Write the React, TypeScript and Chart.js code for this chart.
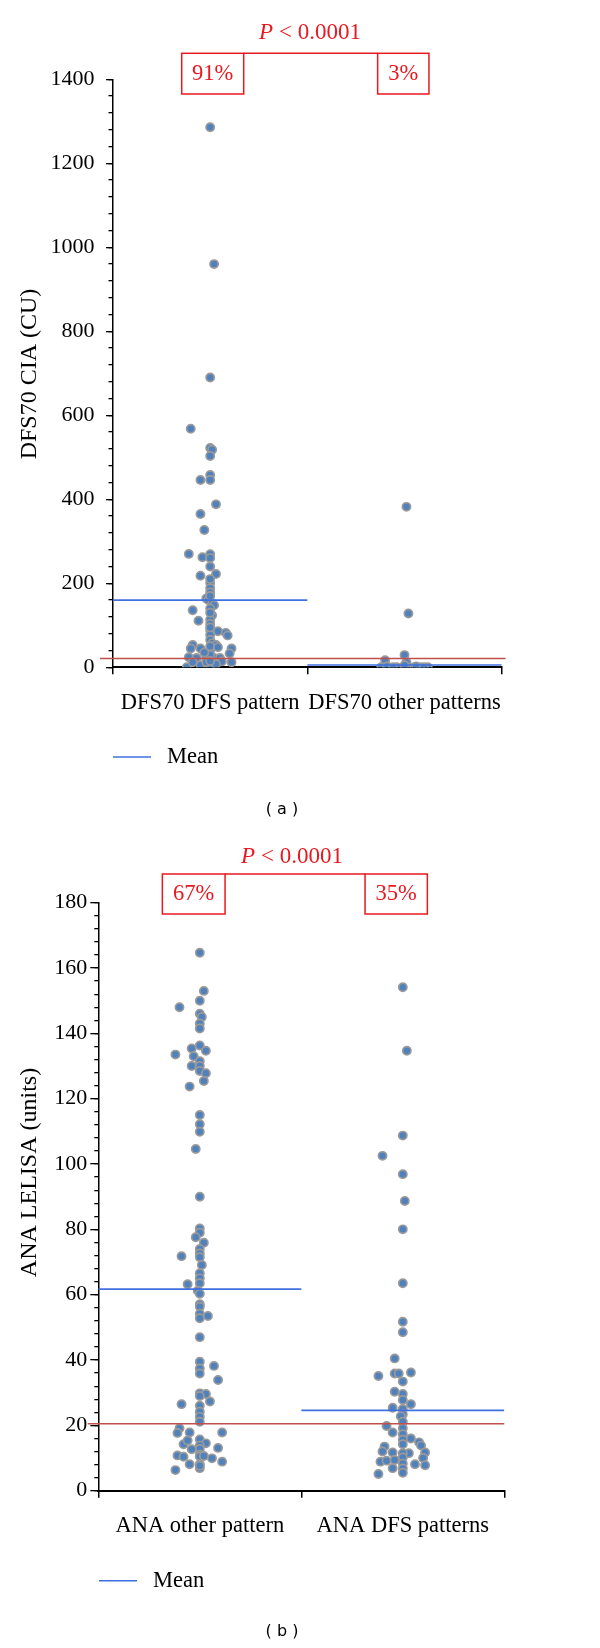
import React, { useEffect, useRef } from "react";
import { Chart, registerables } from "chart.js";

Chart.register(...registerables);

// ---------------- Panel (a) data ----------------
const A_CATEGORIES = ["DFS70 DFS pattern", "DFS70 other patterns"];
const A_Y_TITLE = "DFS70 CIA (CU)";
const A_Y_MAX = 1400;
const A_Y_STEP = 200;
const A_Y_MINOR = 40;
const A_DFS_VALUES = [
  1286, 960, 690, 568, 522, 518, 503, 446, 458, 446,
  388, 365, 327, 270, 262, 269, 260, 240, 218, 222,
  201, 188, 178, 164, 160, 152, 148, 140, 136, 124,
  113, 111, 103, 89, 86, 82, 76, 77, 65, 57,
  53, 53, 45, 45, 45, 41, 33, 24, 22, 22,
  22, 22, 0, 5, 0, 14, 12, 12, 7, 12,
  30, 15, 95, 130, 170, 210, 35, 50, 48,
];
const A_DFS_JITTER = [
  0, 0.02, 0, -0.1, 0, 0.01, 0, -0.05, 0, 0,
  0.03, -0.05, -0.03, -0.11, -0.04, 0, 0, 0, -0.05, 0.03,
  0, 0, 0, -0.02, -0.01, 0.01, 0.02, 0, -0.09, 0.01,
  0, -0.06, 0, 0, 0.04, 0.08, 0.09, 0, 0, 0.01,
  0.03, -0.09, -0.1, -0.05, 0.11, 0, 0.1, -0.11, -0.07, -0.02,
  0.02, 0.05, -0.12, -0.05, 0, 0.06, 0.11, -0.02, 0.03, -0.09,
  0, 0, 0, 0, 0, 0, -0.03, 0, 0.04,
];
const A_OTHER_VALUES = [382, 128, 29, 17, 12, 0, 2, 0, 0, 0, 0, 0, 5, 0, 2, 0];
const A_OTHER_JITTER = [0.01, 0.02, 0, -0.1, 0.01, -0.12, -0.09, -0.04, 0.01, 0.05, 0.08, 0.12, 0, -0.06, 0.06, 0.1];
const A_MEANS = [160, 5.5];
const A_CUTOFF = 21;
const A_PERCENTS = ["91%", "3%"];
const A_CAPTION = "( a )";

// ---------------- Panel (b) data ----------------
const B_CATEGORIES = ["ANA other pattern", "ANA DFS patterns"];
const B_Y_TITLE = "ANA LELISA (units)";
const B_Y_MAX = 180;
const B_Y_STEP = 20;
const B_Y_MINOR = 4;
const B_OTHER_VALUES = [
  164.7, 153, 148, 150, 146, 145, 143, 141.5, 133.5, 135.4,
  136.3, 134.7, 133, 131.5, 130, 128.5, 130, 127.8, 125.4, 123.7,
  115, 112.2, 109.9, 104.6, 90, 80.3, 79, 77.6, 75.9, 74,
  72.6, 71.8, 71.5, 69.1, 66.6, 65, 63.5, 63.2, 61.2, 60.3,
  57.1, 56.3, 54.2, 52.8, 53.5, 47, 39.5, 37.4, 35.9, 38.2,
  33.9, 29.8, 29.6, 29, 27.3, 26.5, 26, 24.2, 22.6, 21.1,
  19.1, 17.7, 17.8, 17.8, 15.7, 14.5, 14.2, 15.4, 13.8, 12.8,
  12.7, 13.1, 10.8, 10.4, 11, 10.5, 10.6, 9.9, 8.9, 8.1,
  8.1, 6.9, 6.3, 7.6,
];
const B_OTHER_JITTER = [
  0, 0.02, -0.1, 0, 0, 0.01, 0, 0, -0.12, -0.04,
  0, 0.03, -0.03, 0, 0, 0, -0.04, 0.03, 0.02, -0.05,
  0, 0, 0, -0.02, 0, 0, 0, -0.02, 0.02, 0,
  0, -0.09, 0, 0.01, 0, 0, 0, -0.06, -0.01, 0,
  0, 0, 0, 0, 0.04, 0, 0, 0, 0, 0.07,
  0.09, 0, 0.03, 0, 0.05, -0.09, 0, 0, 0, 0,
  -0.1, -0.11, -0.05, 0.11, 0, 0.03, -0.08, -0.06, 0, 0,
  -0.04, 0.09, -0.11, -0.08, 0, 0, 0.02, 0.06, 0.11, -0.05,
  0, 0, -0.12, 0,
];
const B_DFS_VALUES = [
  154.1, 134.7, 108.7, 102.5, 96.9, 88.7, 80, 63.5, 51.7, 48.5,
  40.5, 35.1, 35.9, 35.9, 36.2, 33.4, 30.3, 29.6, 27.8, 26.5,
  25.4, 25, 23.4, 22.8, 21.1, 19.8, 17.8, 19.1, 17.3, 15.6,
  14.2, 16, 14.8, 13.8, 13.5, 12, 11.7, 11.5, 11.7, 11.5,
  10.2, 8.3, 6.8, 8.9, 9.2, 9.4, 10, 8.1, 7.8, 6.9,
  5.1, 5.5,
];
const B_DFS_JITTER = [
  0, 0.02, 0, -0.1, 0, 0.01, 0, 0, 0, 0,
  -0.04, -0.12, -0.04, -0.02, 0.04, 0, -0.04, 0, 0, 0.04,
  -0.05, 0, 0, -0.01, 0, -0.08, -0.05, 0, 0, 0,
  0, 0.04, 0.08, 0.09, -0.09, -0.1, -0.05, 0.03, 0.11, 0,
  0, 0, 0, -0.11, -0.08, -0.04, 0.1, 0.06, 0.11, -0.05,
  -0.12, 0,
];
const B_MEANS = [61.7, 24.6];
const B_CUTOFF = 20.5;
const B_PERCENTS = ["67%", "35%"];
const B_CAPTION = "( b )";

// ---------------- Shared text ----------------
const P_LABEL = ["P", " < 0.0001"];
const LEGEND_LABEL = "Mean";

// ---------------- Styles ----------------
const SERIF = '"Liberation Serif", "Times New Roman", serif';
const MEAN_BLUE = "#3f6fe0";
const CUTOFF_RED = "#c0504d";
const ANNOT_RED = "#e8191f";
const DOT_FILL = "#4f81bd";
const DOT_EDGE = "#9a9a9a";
const XC_HEIGHT = 60;

const LAYOUT_A = {
  height: 824,
  left: 113, right: 501.7, top: 79.3, bottom: 667.3,
  yLabelPad: 11.5, majorTick: 7, minorTick: 4.5,
  redFrom: -0.567, redTo: 1.52,
  pX: 310, pY: 33,
  boxTop: 53.3, boxH: 40.7, boxCenters: [212.7, 403.3], boxWidths: [62, 51.3], boxTextY: 74,
  legendX: 113, legendY: 757,
  captionX: 282, captionY: 810,
  titleX: 29.5, titleY: 374,
};

const LAYOUT_B = {
  height: 824,
  left: 98.3, right: 504.3, top: 78.7, bottom: 666.7,
  yLabelPad: 3, majorTick: 8, minorTick: 4,
  redFrom: -0.552, redTo: 1.5,
  pX: 292, pY: 33,
  boxTop: 50, boxH: 40, boxCenters: [193.7, 396.2], boxWidths: [62.7, 62.3], boxTextY: 70,
  legendX: 99, legendY: 756.7,
  captionX: 282, captionY: 808,
  titleX: 30, titleY: 348.5,
};

const PANEL_A = {
  categories: A_CATEGORIES, yTitle: A_Y_TITLE, yMax: A_Y_MAX, yStep: A_Y_STEP, yMinor: A_Y_MINOR,
  groups: [[A_DFS_VALUES, A_DFS_JITTER], [A_OTHER_VALUES, A_OTHER_JITTER]],
  means: A_MEANS, cutoff: A_CUTOFF, percents: A_PERCENTS, caption: A_CAPTION, layout: LAYOUT_A,
};
const PANEL_B = {
  categories: B_CATEGORIES, yTitle: B_Y_TITLE, yMax: B_Y_MAX, yStep: B_Y_STEP, yMinor: B_Y_MINOR,
  groups: [[B_OTHER_VALUES, B_OTHER_JITTER], [B_DFS_VALUES, B_DFS_JITTER]],
  means: B_MEANS, cutoff: B_CUTOFF, percents: B_PERCENTS, caption: B_CAPTION, layout: LAYOUT_B,
};

function makeAnnotations(p: any) {
  const L = p.layout;
  return {
    id: "panelAnnotations",
    afterDraw(chart: any) {
      const ctx = chart.ctx as CanvasRenderingContext2D;
      ctx.save();
      // y-axis title
      ctx.save();
      ctx.translate(L.titleX, L.titleY);
      ctx.rotate(-Math.PI / 2);
      ctx.font = `24px ${SERIF}`;
      ctx.fillStyle = "#000";
      ctx.textAlign = "center";
      ctx.textBaseline = "middle";
      ctx.fillText(p.yTitle, 0, 0);
      ctx.restore();

      // percentage boxes and bracket
      const [c1, c2] = L.boxCenters;
      const [w1, w2] = L.boxWidths;
      ctx.strokeStyle = ANNOT_RED;
      ctx.lineWidth = 1.5;
      ctx.strokeRect(c1 - w1 / 2, L.boxTop, w1, L.boxH);
      ctx.strokeRect(c2 - w2 / 2, L.boxTop, w2, L.boxH);
      ctx.beginPath();
      ctx.moveTo(c1 + w1 / 2, L.boxTop);
      ctx.lineTo(c2 - w2 / 2, L.boxTop);
      ctx.stroke();
      ctx.fillStyle = ANNOT_RED;
      ctx.font = `22.5px ${SERIF}`;
      ctx.textAlign = "center";
      ctx.textBaseline = "middle";
      ctx.fillText(p.percents[0], c1, L.boxTextY);
      ctx.fillText(p.percents[1], c2, L.boxTextY);

      // P value
      ctx.font = `italic 23px ${SERIF}`;
      const wP = ctx.measureText(P_LABEL[0]).width;
      ctx.font = `23px ${SERIF}`;
      const wR = ctx.measureText(P_LABEL[1]).width;
      const x0 = L.pX - (wP + wR) / 2;
      ctx.textAlign = "left";
      ctx.font = `italic 23px ${SERIF}`;
      ctx.fillText(P_LABEL[0], x0, L.pY);
      ctx.font = `23px ${SERIF}`;
      ctx.fillText(P_LABEL[1], x0 + wP, L.pY);

      // legend
      ctx.strokeStyle = MEAN_BLUE;
      ctx.lineWidth = 1.6;
      ctx.beginPath();
      ctx.moveTo(L.legendX, L.legendY);
      ctx.lineTo(L.legendX + 38, L.legendY);
      ctx.stroke();
      ctx.fillStyle = "#000";
      ctx.font = `22.5px ${SERIF}`;
      ctx.textAlign = "left";
      ctx.fillText(LEGEND_LABEL, L.legendX + 54, L.legendY);

      // caption
      ctx.font = `16px "DejaVu Sans", sans-serif`;
      ctx.textAlign = "center";
      ctx.fillText(p.caption, L.captionX, L.captionY);
      ctx.restore();
    },
  };
}

function buildConfig(p: any): any {
  const L = p.layout;
  const pts = (vals: number[], jit: number[], cat: number) =>
    vals.map((v, i) => ({ x: cat + jit[i], y: v }));
  const lineDs = (label: string, data: any[], color: string, clip: boolean) => ({
    label,
    data,
    showLine: true,
    borderColor: color,
    backgroundColor: color,
    borderWidth: 1.6,
    pointRadius: 0,
    pointHoverRadius: 0,
    order: 0,
    clip: clip ? undefined : false,
  });
  const dotDs = (label: string, data: any[]) => ({
    label,
    data,
    showLine: false,
    pointRadius: 4.1,
    pointHoverRadius: 4.1,
    pointBackgroundColor: DOT_FILL,
    pointBorderColor: DOT_EDGE,
    pointBorderWidth: 1.7,
    backgroundColor: DOT_FILL,
    borderColor: DOT_EDGE,
    order: 1,
  });
  return {
    type: "scatter",
    data: {
      datasets: [
        lineDs(LEGEND_LABEL, [{ x: -0.5, y: p.means[0] }, { x: 0.5, y: p.means[0] }], MEAN_BLUE, true),
        lineDs(LEGEND_LABEL, [{ x: 0.5, y: p.means[1] }, { x: 1.5, y: p.means[1] }], MEAN_BLUE, true),
        lineDs("Cut-off", [{ x: L.redFrom, y: p.cutoff }, { x: L.redTo, y: p.cutoff }], CUTOFF_RED, false),
        dotDs(p.categories[0], pts(p.groups[0][0], p.groups[0][1], 0)),
        dotDs(p.categories[1], pts(p.groups[1][0], p.groups[1][1], 1)),
      ],
    },
    options: {
      responsive: false,
      animation: false,
      devicePixelRatio: 1,
      layout: {
        padding: { left: 0, right: 600 - L.right, top: L.top, bottom: L.height - L.bottom - XC_HEIGHT },
      },
      plugins: { legend: { display: false }, tooltip: { enabled: false }, title: { display: false } },
      scales: {
        x: {
          type: "linear", position: "bottom", weight: 0, min: -0.5, max: 1.5,
          afterFit: (s: any) => { s.height = 0; },
          ticks: { stepSize: 1, display: false, autoSkip: false },
          grid: { drawOnChartArea: false, drawTicks: true, tickLength: 7, color: "#000", lineWidth: 1.5 },
          border: { display: true, color: "#000", width: 2 },
        },
        xc: {
          type: "category", position: "bottom", axis: "x", weight: 1, labels: p.categories, offset: true,
          afterFit: (s: any) => { s.height = XC_HEIGHT; },
          grid: { display: false, drawTicks: false },
          border: { display: false },
          ticks: { color: "#000", font: { family: SERIF, size: 22.5 }, padding: 22, maxRotation: 0, autoSkip: false },
        },
        y: {
          type: "linear", position: "left", weight: 1, min: 0, max: p.yMax,
          afterFit: (s: any) => { s.width = L.left; },
          ticks: {
            stepSize: p.yStep, color: "#000", font: { family: SERIF, size: 22 }, padding: L.yLabelPad,
            autoSkip: false, callback: (v: any) => String(v),
          },
          grid: { drawOnChartArea: false, tickLength: L.majorTick, color: "#000", lineWidth: 1.3 },
          border: { display: true, color: "#000", width: 1.5 },
        },
        y2: {
          type: "linear", position: "left", axis: "y", weight: 0, min: 0, max: p.yMax,
          afterFit: (s: any) => { s.width = 0; },
          ticks: { stepSize: p.yMinor, display: false, autoSkip: false, callback: () => "" },
          grid: { drawOnChartArea: false, tickLength: L.minorTick, color: "#000", lineWidth: 1.3 },
          border: { display: false },
        },
      },
    },
    plugins: [makeAnnotations(p)],
  };
}

function Panel({ panel }: { panel: any }) {
  const ref = useRef<HTMLCanvasElement>(null);
  useEffect(() => {
    const chart = new Chart(ref.current as HTMLCanvasElement, buildConfig(panel));
    return () => chart.destroy();
  }, [panel]);
  return (
    <canvas
      ref={ref}
      width={600}
      height={panel.layout.height}
      style={{ display: "block", width: 600, height: panel.layout.height }}
    />
  );
}

export default function App() {
  useEffect(() => {
    document.body.style.margin = "0";
  }, []);
  return (
    <div style={{ width: 600, background: "#fff" }}>
      <Panel panel={PANEL_A} />
      <Panel panel={PANEL_B} />
    </div>
  );
}
